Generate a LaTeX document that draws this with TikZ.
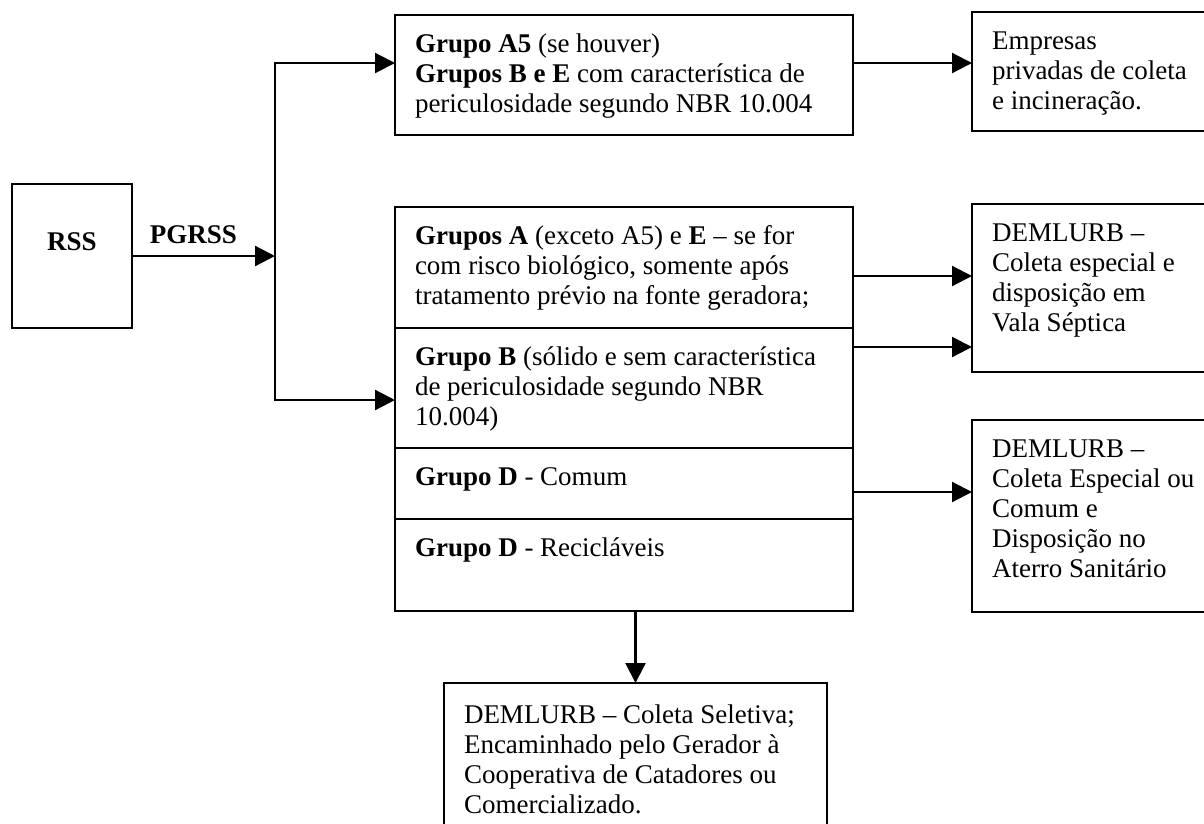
\documentclass[tikz,border=0pt]{standalone}
\usepackage{fontspec}
\setmainfont{Liberation Serif}
\usetikzlibrary{arrows.meta,positioning}

% text block of a box, set at its top: #1 box width, #2 box height
\newcommand{\celltext}[3]{\parbox[c][\dimexpr#2pt-32pt\relax][t]{\dimexpr#1pt-40pt\relax}{\raggedright\strut#3}}

\tikzset{
  cell/.style={draw, line width=2.2pt, outer sep=0pt, inner xsep=20pt, inner ysep=16pt},
  flow/.style={line width=2.2pt, -{Triangle[length=20pt,width=20pt]}},
}

\begin{document}
\begin{tikzpicture}[x=1pt, y=-1pt, font=\fontsize{27}{30}\selectfont]
\useasboundingbox (0,0) rectangle (1204,823);

\node [cell, anchor=north west, inner sep=0pt, minimum width=120pt, minimum height=144pt, text depth=28pt] (rss) at (12,184) {\textbf{RSS}};

\node [cell, anchor=north west] (a5) at (395,15) {\celltext{458}{120}{\textbf{Grupo A5} (se houver)\\ \textbf{Grupos B e E} com característica de\\ periculosidade segundo NBR 10.004}};
\node [cell, anchor=north west] (emp) at (972,12) {\celltext{260}{119}{Empresas\\ privadas de coleta\\ e incineração.}};

\node [cell, anchor=north west] (ga) at (395,207) {\celltext{458}{121}{\textbf{Grupos A} (exceto A5) e \textbf{E} – se for\\ com risco biológico, somente após\\ tratamento prévio na fonte geradora;}};
\node [cell, below=0pt of ga] (gb) {\celltext{458}{120}{\textbf{Grupo B} (sólido e sem característica\\ de periculosidade segundo NBR\\ 10.004)}};
\node [cell, below=0pt of gb] (gdc) {\celltext{458}{71}{\textbf{Grupo D} - Comum}};
\node [cell, below=0pt of gdc] (gdr) {\celltext{458}{92}{\textbf{Grupo D} - Recicláveis}};

\node [cell, anchor=north west] (vala) at (972,204) {\celltext{260}{168}{DEMLURB –\\ Coleta especial e\\ disposição em\\ Vala Séptica}};
\node [cell, anchor=north west] (aterro) at (972,420) {\celltext{260}{192}{DEMLURB –\\ Coleta Especial ou\\ Comum e\\ Disposição no\\ Aterro Sanitário}};
\node [cell, anchor=north west, inner ysep=19pt] (selet) at (444,683) {\celltext{383}{171}{DEMLURB – Coleta Seletiva;\\ Encaminhado pelo Gerador à\\ Cooperativa de Catadores ou\\ Comercializado.}};

\coordinate (split) at (275,256);

\draw [flow] (rss.east) -- node [above=11pt, inner sep=0pt, pos=0.43] {\textbf{PGRSS}} (split);
\draw [flow] (split) |- ([yshift=12pt]a5.west);
\draw [flow] (split) |- ([yshift=-12pt]gb.west);

\draw [flow] ([yshift=12pt]a5.east) -- ([yshift=12pt]a5.east -| emp.west);
\draw [flow] ([yshift=-8.5pt]ga.east) -- ([yshift=-8.5pt]ga.east -| vala.west);
\draw [flow] ([yshift=41pt]gb.east) -- ([yshift=41pt]gb.east -| vala.west);
\draw [flow] ([yshift=-8.5pt]gdc.east) -- ([yshift=-8.5pt]gdc.east -| aterro.west);
\draw [flow] (gdr.south -| selet.north) -- (selet.north);

\end{tikzpicture}
\end{document}
